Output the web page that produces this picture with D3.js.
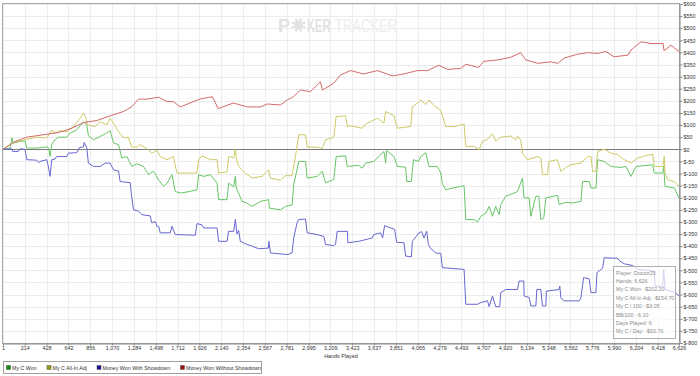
<!DOCTYPE html>
<html>
<head>
  <meta charset="utf-8">
  <title>Hands Played</title>
  <script src="https://d3js.org/d3.v7.min.js"></script>
  <style>
    body { margin: 0; background: #fff; }
    text { font-family: "Liberation Sans", Arial, sans-serif; }
  </style>
</head>
<body>
  <div id="chart"></div>

  <script>
    // series: [hands, dollars]
    var myCWon = [[1,0],[70,5],[89,47],[102,25],[138,30],[217,35],[234,5],[332,5],[430,10],[448,5],[462,-30],[479,20],[511,39],[544,50],[626,50],[659,67],[724,80],[789,114],[822,100],[838,56],[888,39],[953,53],[1019,67],[1051,77],[1084,26],[1133,19],[1166,-36],[1215,-30],[1264,-71],[1313,-60],[1378,-71],[1427,-105],[1476,-90],[1525,-126],[1574,-153],[1608,-140],[1657,-105],[1689,-174],[1738,-181],[1836,-174],[1902,-167],[1918,-105],[1967,-112],[2033,-105],[2099,-140],[2114,-208],[2197,-208],[2212,-140],[2262,-155],[2278,-112],[2287,-160],[2310,-181],[2343,-215],[2392,-222],[2442,-236],[2524,-215],[2605,-208],[2612,-243],[2720,-250],[2769,-236],[2834,-230],[2850,-146],[2900,-50],[2966,-50],[2982,-119],[3080,-112],[3130,-91],[3162,-139],[3243,-125],[3266,-30],[3358,-27],[3374,-71],[3485,-66],[3522,-78],[3554,-57],[3636,-50],[3734,-9],[3751,-57],[3761,-5],[3833,-30],[3866,-71],[3947,-74],[3957,-133],[4003,-133],[4023,-43],[4075,-50],[4094,-30],[4144,-14],[4176,-71],[4258,-71],[4291,-98],[4307,-142],[4340,-167],[4455,-156],[4520,-150],[4536,-290],[4618,-290],[4651,-301],[4684,-277],[4733,-263],[4766,-236],[4798,-277],[4830,-236],[4863,-270],[4879,-229],[4928,-194],[5043,-175],[5092,-119],[5108,-201],[5157,-201],[5174,-277],[5223,-194],[5252,-194],[5272,-290],[5301,-284],[5321,-201],[5435,-190],[5451,-228],[5517,-219],[5583,-222],[5665,-215],[5681,-133],[5746,-133],[5763,-160],[5812,-160],[5828,-43],[5893,-50],[5959,-71],[6057,-75],[6106,-71],[6156,-112],[6205,-71],[6368,-64],[6384,-98],[6467,-98],[6476,-71],[6489,-153],[6581,-160],[6626,-202]];

    var myCAllInAdj = [[1,0],[99,28],[217,39],[332,50],[430,47],[479,80],[511,63],[560,77],[629,73],[691,94],[757,128],[789,149],[816,128],[828,101],[904,94],[953,114],[1019,101],[1051,128],[1084,108],[1133,73],[1182,47],[1228,50],[1264,9],[1313,9],[1346,19],[1411,3],[1461,-16],[1510,-4],[1542,-30],[1608,-43],[1670,-30],[1706,-98],[1902,-98],[1918,-43],[1951,-27],[2033,-43],[2099,-43],[2114,-98],[2197,-93],[2212,-30],[2262,-35],[2278,0],[2287,-35],[2310,-71],[2376,-98],[2442,-119],[2540,-112],[2605,-85],[2621,-119],[2720,-128],[2769,-109],[2834,-109],[2867,-30],[2900,60],[2966,60],[2982,9],[3080,9],[3130,3],[3162,39],[3243,50],[3266,135],[3358,138],[3377,94],[3407,97],[3522,87],[3554,104],[3669,128],[3734,108],[3751,156],[3833,138],[3866,87],[3997,94],[4013,176],[4062,190],[4094,204],[4144,185],[4176,204],[4226,180],[4291,160],[4340,94],[4422,94],[4520,104],[4536,12],[4618,12],[4667,-2],[4700,33],[4749,41],[4798,64],[4830,33],[4879,50],[4977,55],[5026,38],[5043,55],[5075,38],[5092,-16],[5141,-43],[5239,-30],[5272,-36],[5288,-105],[5337,-105],[5353,-50],[5435,-43],[5468,-91],[5517,-75],[5567,-64],[5665,-57],[5730,-30],[5763,-30],[5779,-91],[5812,-91],[5828,-9],[5893,0],[5959,-16],[6025,-22],[6090,-43],[6156,-57],[6221,-36],[6286,-28],[6368,-20],[6384,-71],[6467,-71],[6482,-30],[6489,-98],[6516,-126],[6581,-133],[6626,-155]];

    var wonWithShowdown = [[1,0],[89,2],[96,-9],[151,-9],[168,2],[217,0],[234,-43],[332,-45],[351,-55],[364,-50],[430,-43],[445,-70],[462,-112],[479,-43],[511,-40],[528,-30],[626,-30],[642,-16],[724,-14],[750,7],[789,10],[796,28],[822,7],[838,-57],[888,-71],[953,-71],[1002,-57],[1051,-57],[1084,-85],[1133,-90],[1149,-133],[1248,-138],[1258,-181],[1280,-250],[1329,-255],[1362,-270],[1443,-275],[1460,-304],[1493,-298],[1510,-318],[1527,-318],[1542,-345],[1640,-345],[1657,-318],[1689,-352],[1886,-355],[1902,-307],[1951,-312],[1967,-325],[2099,-325],[2114,-380],[2197,-380],[2212,-339],[2262,-339],[2278,-290],[2294,-350],[2310,-335],[2327,-380],[2392,-393],[2442,-400],[2507,-411],[2602,-408],[2607,-380],[2621,-428],[2792,-435],[2834,-428],[2850,-366],[2883,-304],[2900,-290],[2966,-288],[2982,-345],[3080,-352],[3145,-360],[3162,-393],[3240,-398],[3260,-393],[3276,-339],[3377,-339],[3380,-386],[3488,-380],[3537,-375],[3620,-366],[3636,-352],[3701,-345],[3721,-366],[3741,-315],[3800,-325],[3839,-330],[3859,-384],[3931,-386],[3947,-441],[4003,-444],[4013,-380],[4078,-345],[4104,-340],[4127,-366],[4153,-338],[4170,-393],[4193,-410],[4242,-428],[4291,-430],[4307,-489],[4520,-496],[4536,-640],[4651,-640],[4684,-633],[4749,-626],[4766,-650],[4798,-606],[4830,-650],[4869,-650],[4879,-592],[4928,-579],[5043,-579],[5059,-544],[5105,-544],[5108,-606],[5157,-612],[5174,-647],[5223,-647],[5233,-579],[5272,-579],[5288,-647],[5321,-647],[5326,-586],[5451,-579],[5458,-565],[5468,-613],[5500,-626],[5648,-626],[5665,-613],[5691,-530],[5746,-535],[5763,-592],[5812,-592],[5822,-510],[5878,-490],[5893,-448],[6025,-450],[6040,-460],[6090,-473],[6172,-480],[6221,-496],[6335,-500],[6384,-505],[6391,-565],[6467,-565],[6476,-496],[6489,-579],[6581,-590],[6626,-605]];

    var wonWithoutShowdown = [[1,0],[119,32],[234,50],[364,58],[462,64],[577,73],[675,87],[789,110],[921,119],[1051,138],[1182,156],[1264,176],[1329,207],[1411,207],[1525,215],[1608,197],[1670,197],[1738,175],[1935,208],[2052,217],[2111,168],[2258,191],[2396,175],[2524,175],[2592,187],[2720,183],[2788,204],[2847,217],[2916,245],[3014,238],[3112,279],[3132,245],[3240,272],[3309,307],[3407,325],[3534,311],[3672,325],[3819,303],[3927,311],[4064,325],[4163,325],[4271,347],[4359,330],[4487,334],[4536,351],[4663,338],[4712,363],[4850,369],[4977,380],[5075,399],[5125,369],[5242,355],[5370,361],[5439,355],[5497,376],[5635,393],[5733,399],[5832,396],[5910,404],[5989,382],[6126,389],[6156,410],[6254,444],[6352,437],[6470,437],[6479,407],[6548,430],[6626,403]];

    var seriesNames = ["My C Won", "My C All-In Adj", "Money Won With Showdown", "Money Won Without Showdown"];
    var lineColors = ["#66c666", "#cdca66", "#6666d2", "#d46a6a"];
    var legendColors = ["#0a8a0a", "#9a9a10", "#10109a", "#9a1010"];

    var xTicks = [1,214,428,642,856,1070,1284,1498,1712,1926,2140,2354,2567,2781,2995,3209,3423,3637,3851,4065,4279,4493,4707,4920,5134,5348,5562,5776,5990,6204,6418,6626];
    var yTicks = d3.range(-800, 601, 50);

    var infoLines = ["Player: Doctor20", "Hands: 6,626", "My C Won: -$202.20", "My C All-In Adj: -$154.70",
                     "My C / 100: -$3.05", "BB/100: -6.10", "Days Played: 6", "My C / Day: -$33.70"];

    var width = 700, height = 376;
    var plotL = 3, plotR = 679, plotT = 4, plotB = 343;

    var svg = d3.select("#chart").append("svg")
      .attr("width", width)
      .attr("height", height);

    var x = d3.scaleLinear().domain([1, 6626]).range([plotL, plotR]);
    var y = d3.scaleLinear().domain([-800, 600]).range([plotB, plotT]);

    // grid
    svg.append("g").selectAll("line").data(xTicks).enter().append("line")
      .attr("x1", function(d) { return Math.round(x(d)) + 0.5; })
      .attr("x2", function(d) { return Math.round(x(d)) + 0.5; })
      .attr("y1", plotT).attr("y2", plotB)
      .attr("stroke", "#ececec");
    svg.append("g").selectAll("line").data(yTicks).enter().append("line")
      .attr("x1", plotL).attr("x2", plotR)
      .attr("y1", function(d) { return Math.round(y(d)) + 0.5; })
      .attr("y2", function(d) { return Math.round(y(d)) + 0.5; })
      .attr("stroke", "#ececec");

    // watermark (squeezed with a scale so the boxes stay tight)
    var wm = svg.append("g");
    wm.append("text").attr("x", 278).attr("y", 31.5).attr("font-size", 18).attr("font-weight", "bold")
      .attr("fill", "#e2e2e2").text("P");
    wm.append("circle").attr("cx", 298.5).attr("cy", 25).attr("r", 7).attr("fill", "#e2e2e2");
    wm.selectAll("rect.notch").data([0, 45, 90, 135]).enter().append("rect")
      .attr("x", 297.5).attr("y", 17.5).attr("width", 2).attr("height", 15).attr("fill", "#fff")
      .attr("transform", function(d) { return "rotate(" + d + ",298.5,25)"; });
    wm.append("circle").attr("cx", 298.5).attr("cy", 25).attr("r", 4.5).attr("fill", "#e2e2e2");
    wm.append("text").attr("transform", "translate(307,31.5) scale(0.62,1)")
      .attr("font-size", 18).attr("font-weight", "bold").attr("fill", "#e2e2e2").text("KER");
    wm.append("text").attr("transform", "translate(335,31.5) scale(0.72,1)")
      .attr("font-size", 18).attr("fill", "#eeeeee").text("TRACKER");

    // frame
    svg.append("rect").attr("x", plotL - 0.5).attr("y", plotT - 0.5)
      .attr("width", plotR - plotL + 1).attr("height", plotB - plotT + 1)
      .attr("fill", "none").attr("stroke", "#a8a8a8");

    // zero line
    svg.append("line").attr("x1", plotL).attr("x2", plotR)
      .attr("y1", Math.round(y(0)) + 0.5).attr("y2", Math.round(y(0)) + 0.5)
      .attr("stroke", "#7a7a7a");

    // series lines
    var line = d3.line()
      .x(function(d) { return x(d[0]); })
      .y(function(d) { return y(d[1]); });
    var allSeries = [myCWon, myCAllInAdj, wonWithShowdown, wonWithoutShowdown];
    svg.append("g").selectAll("path").data(allSeries).enter().append("path")
      .attr("d", line)
      .attr("fill", "none")
      .attr("stroke", function(d, i) { return lineColors[i]; })
      .attr("stroke-width", 1);

    // axes
    var xAxis = d3.axisBottom(x).tickValues(xTicks).tickSize(2).tickPadding(1)
      .tickFormat(function(d) { return d3.format(",")(d); });
    var gx = svg.append("g").attr("transform", "translate(0," + (plotB + 0.5) + ")").call(xAxis);
    var yAxis = d3.axisRight(y).tickValues(yTicks).tickSize(3).tickPadding(1)
      .tickFormat(function(d) { return "$" + d; });
    var gy = svg.append("g").attr("transform", "translate(" + (plotR + 0.5) + ",0)").call(yAxis);
    [gx, gy].forEach(function(g) {
      g.select(".domain").attr("stroke", "#888");
      g.selectAll(".tick line").attr("stroke", "#888");
      g.selectAll(".tick text").attr("font-size", 5.4).attr("fill", "#333")
        .attr("font-family", "'Liberation Sans', Arial, sans-serif");
    });

    svg.append("text").attr("x", 341).attr("y", 358).attr("text-anchor", "middle")
      .attr("font-size", 5.4).attr("fill", "#333").text("Hands Played");

    // info box
    var info = svg.append("g");
    info.append("rect").attr("x", 613.5).attr("y", 266.5).attr("width", 62).attr("height", 72)
      .attr("fill", "#fff").attr("fill-opacity", 0.7).attr("stroke", "#b0b0b0");
    info.selectAll("text").data(infoLines).enter().append("text")
      .attr("x", 616).attr("y", function(d, i) { return 274.5 + i * 8.4; })
      .attr("font-size", 5.3).attr("fill", "#8a8a8a").text(function(d) { return d; });

    // legend
    var lg = svg.append("g");
    lg.append("rect").attr("x", 3.5).attr("y", 361.5).attr("width", 258).attr("height", 12)
      .attr("fill", "#fff").attr("stroke", "#a0a0a0");
    var legendX = [6, 46.5, 96.5, 180];
    var items = lg.selectAll("g.item").data(seriesNames).enter().append("g")
      .attr("transform", function(d, i) { return "translate(" + legendX[i] + ",365)"; });
    items.append("rect").attr("x", 0.5).attr("y", 0.5).attr("width", 4).attr("height", 4)
      .attr("fill", function(d, i) { return legendColors[i]; }).attr("stroke", "#555").attr("stroke-width", 0.5);
    items.append("text").attr("x", 6).attr("y", 4.6).attr("font-size", 5.3).attr("fill", "#333")
      .text(function(d) { return d; });
  </script>
</body>
</html>
